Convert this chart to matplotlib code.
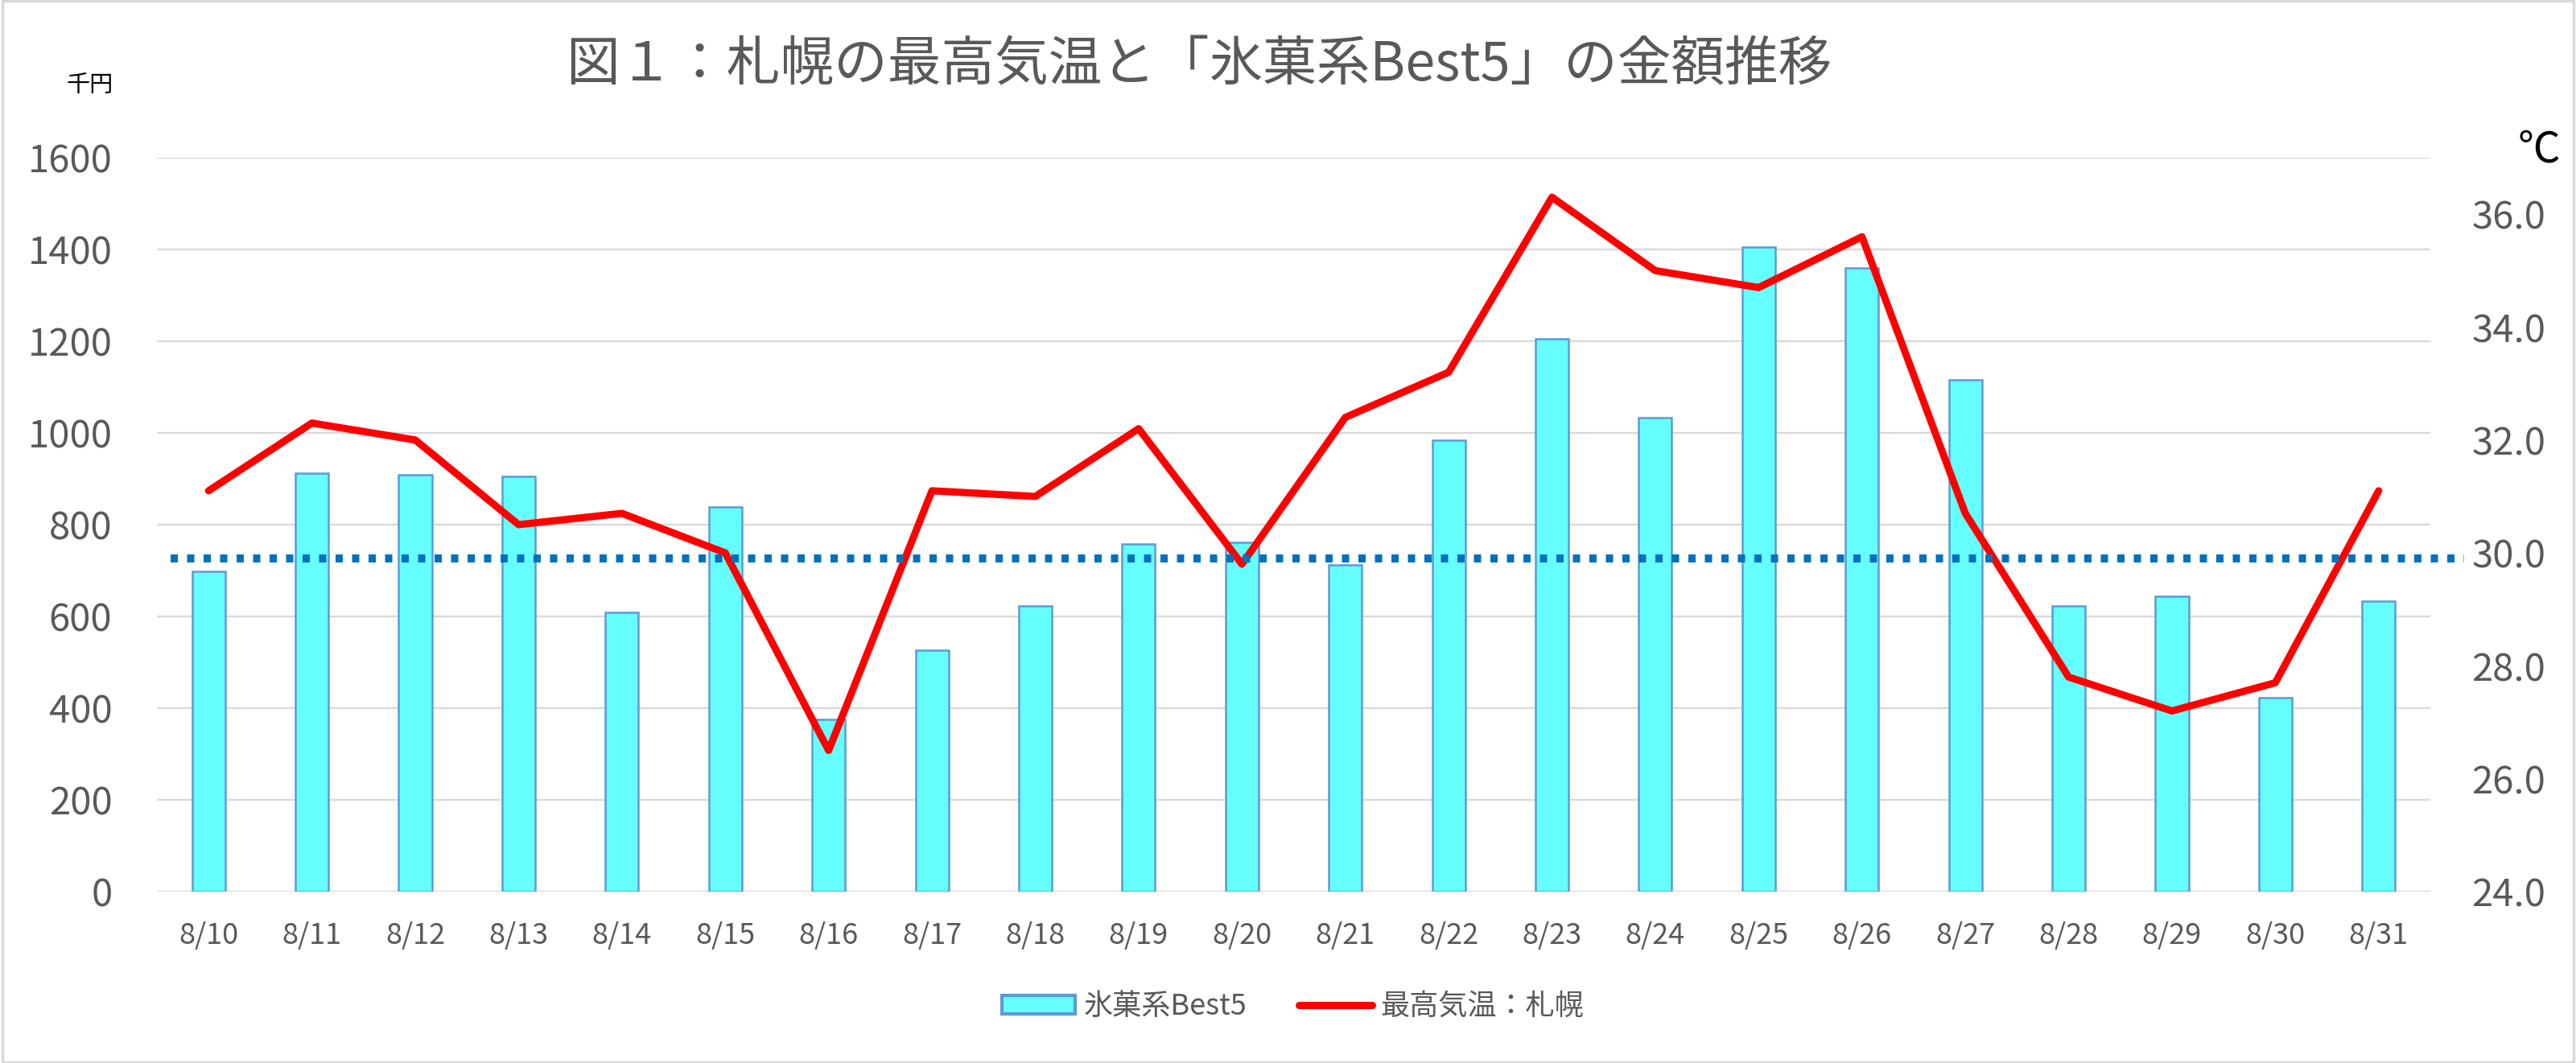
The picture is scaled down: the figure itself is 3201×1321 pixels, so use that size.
import matplotlib
matplotlib.use("Agg")
import matplotlib.pyplot as plt
from matplotlib.patches import Rectangle
import numpy as np

plt.rcParams['font.family'] = ['Noto Sans CJK JP', 'DejaVu Sans']

# ---- data ----
dates = ["8/10", "8/11", "8/12", "8/13", "8/14", "8/15", "8/16", "8/17", "8/18", "8/19", "8/20",
         "8/21", "8/22", "8/23", "8/24", "8/25", "8/26", "8/27", "8/28", "8/29", "8/30", "8/31"]
sales = [698, 912, 909, 905, 608, 838, 375, 526, 622, 758, 762,
         712, 984, 1206, 1034, 1406, 1360, 1116, 622, 644, 422, 634]
temps = [31.1, 32.3, 32.0, 30.5, 30.7, 30.0, 26.5, 31.1, 31.0, 32.2, 29.8,
         32.4, 33.2, 36.3, 35.0, 34.7, 35.6, 30.7, 27.8, 27.2, 27.7, 31.1]
ref_temp = 29.9
left_ticks = [0, 200, 400, 600, 800, 1000, 1200, 1400, 1600]
right_ticks = [24, 26, 28, 30, 32, 34, 36]

title = "図１：札幌の最高気温と「氷菓系Best5」の金額推移"
bar_label = "氷菓系Best5"
line_label = "最高気温：札幌"

W, H = 3201, 1321
fig = plt.figure(figsize=(W / 100, H / 100), dpi=100)
ax = fig.add_axes([195 / W, 1 - 1108 / H, (3020 - 195) / W, (1108 - 196) / H])
ax2 = ax.twinx()

x = np.arange(len(dates))
bars = ax.bar(x, sales, width=0.32, color="#66FFFF", edgecolor="#5B9BD5",
              linewidth=1.8, zorder=3, label=bar_label)
ax.set_xlim(-0.5, len(dates) - 0.5)
ax.set_ylim(0, 1600)
ax.set_yticks(left_ticks)
ax.set_yticklabels([str(v) for v in left_ticks])
ax.grid(axis="y", color="#D9D9D9", linewidth=1.7, zorder=0)
ax.set_axisbelow(True)
ax.set_xticks(x)
ax.set_xticklabels(dates)
ax.tick_params(axis="x", length=0, pad=27, labelsize=26, labelcolor="#595959")
ax.tick_params(axis="y", length=0, pad=40, labelsize=34, labelcolor="#595959")
for s in ax.spines.values():
    s.set_visible(False)

line, = ax2.plot(x, temps, color="#FF0000", linewidth=6.5, solid_joinstyle="round",
                 solid_capstyle="round", zorder=4, label=line_label)
ax2.set_ylim(24, 37)
ax2.set_yticks(right_ticks)
ax2.set_yticklabels([f"{v:.1f}" for v in right_ticks])
ax2.tick_params(axis="y", length=0, pad=37, labelsize=34, labelcolor="#595959")
for s in ax2.spines.values():
    s.set_visible(False)

ax2.axhline(ref_temp, xmin=0.006, xmax=1.015, color="#0070C0", linewidth=7.2,
            linestyle=(0, (0.9, 1.15)), dash_capstyle="butt", clip_on=False, zorder=5)

fig.text(1490 / W, 1 - 82 / H, title, ha="center", va="center", fontsize=48, color="#595959")
fig.text(112 / W, 1 - 106 / H, "千円", ha="center", va="center", fontsize=21, color="black")
fig.text(3155 / W, 1 - 186 / H, "℃", ha="center", va="center", fontsize=38, color="black")

leg = fig.legend([bars, line], [bar_label, line_label], loc="center", bbox_to_anchor=(0.502, 1 - 1251 / H),
                 ncol=2, frameon=False, fontsize=26, labelcolor="#595959", handlelength=2.5,
                 handleheight=0.6, handletextpad=0.3, columnspacing=1.8)
leg.legend_handles[0].set_linewidth(3)

fig.patches.append(Rectangle((0.001, 0.001), 0.998, 0.998, transform=fig.transFigure,
                             fill=False, edgecolor="#D9D9D9", linewidth=2.5))

fig.savefig("out.png", dpi=100)
